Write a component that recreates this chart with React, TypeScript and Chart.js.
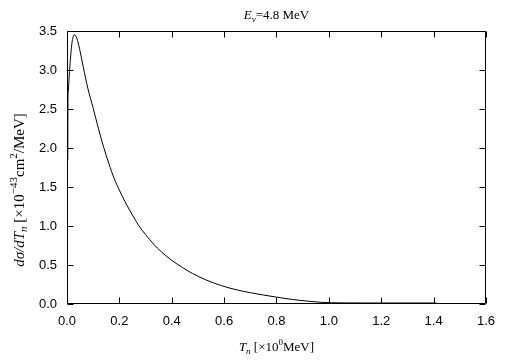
import React, { useEffect, useRef } from "react";
import { Chart, registerables } from "chart.js";

Chart.register(...registerables);

// Data
const tnValues = [
  0.003, 0.0035, 0.005, 0.008, 0.011, 0.015, 0.019, 0.023, 0.028, 0.033, 0.04,
  0.05, 0.062, 0.08, 0.1, 0.12, 0.14, 0.16, 0.18, 0.2, 0.225, 0.25, 0.275, 0.3,
  0.33, 0.36, 0.4, 0.44, 0.48, 0.53, 0.59, 0.65, 0.7, 0.75, 0.8, 0.86, 0.92,
  0.97, 1.01, 1.06, 1.15, 1.25, 1.35, 1.41,
];
const dsigmaValues = [
  1.85, 2.5, 2.72, 2.9, 3.05, 3.22, 3.35, 3.42, 3.45, 3.44, 3.38, 3.24, 3.04,
  2.76, 2.51, 2.25, 2.01, 1.8, 1.61, 1.46, 1.29, 1.14, 1.0, 0.89, 0.77, 0.67,
  0.56, 0.47, 0.39, 0.31, 0.235, 0.18, 0.145, 0.115, 0.088, 0.058, 0.036, 0.022,
  0.016, 0.014, 0.013, 0.013, 0.013, 0.013,
];
const xTickRange = [0, 1.6];
const xTickStep = 0.2;
const yTickRange = [0, 3.5];
const yTickStep = 0.5;

type Seg = { t: string; i?: boolean; s?: "sub" | "sup" };
const titleSegs: Seg[] = [
  { t: "E", i: true },
  { t: "ν", i: true, s: "sub" },
  { t: "=4.8 MeV" },
];
const xTitleSegs: Seg[] = [
  { t: "T", i: true },
  { t: "n", i: true, s: "sub" },
  { t: " [×10" },
  { t: "0", s: "sup" },
  { t: "MeV]" },
];
const yTitleSegs: Seg[] = [
  { t: "dσ/dT", i: true },
  { t: "n", i: true, s: "sub" },
  { t: " [×10" },
  { t: "−43", s: "sup" },
  { t: "cm" },
  { t: "2", s: "sup" },
  { t: "/MeV]" },
];

const SERIF = '"Liberation Serif", "DejaVu Serif", serif';

function segFont(s: Seg, base: number, small: number) {
  const size = s.s ? small : base;
  return `${s.i ? "italic " : ""}${size}px ${SERIF}`;
}

function drawRich(
  ctx: CanvasRenderingContext2D,
  segs: Seg[],
  cx: number,
  cy: number,
  rot: number,
  base: number,
  small: number
) {
  ctx.save();
  ctx.translate(cx, cy);
  ctx.rotate(rot);
  let total = 0;
  const widths = segs.map((s) => {
    ctx.font = segFont(s, base, small);
    const w = ctx.measureText(s.t).width;
    total += w;
    return w;
  });
  let x = -total / 2;
  ctx.fillStyle = "#000";
  ctx.textBaseline = "alphabetic";
  ctx.textAlign = "left";
  segs.forEach((s, k) => {
    ctx.font = segFont(s, base, small);
    const dy = s.s === "sub" ? base * 0.25 : s.s === "sup" ? -base * 0.45 : 0;
    ctx.fillText(s.t, x, base * 0.3 + dy);
    x += widths[k];
  });
  ctx.restore();
}

const framePlugin = {
  id: "frameAndTitles",
  afterDraw(chart: any) {
    const { ctx, chartArea } = chart;
    const { left, right, top, bottom } = chartArea;
    const xs = chart.scales.x;
    const ys = chart.scales.y;
    ctx.save();
    ctx.strokeStyle = "#000";
    ctx.lineWidth = 1;
    ctx.beginPath();
    const L = Math.round(left) + 0.5;
    const R = Math.round(right) - 0.5;
    const T = Math.round(top) + 0.5;
    const B = Math.round(bottom) - 0.5;
    ctx.rect(L, T, R - L, B - T);
    const len = 6;
    xs.ticks.forEach((t: any) => {
      const px = Math.round(xs.getPixelForValue(t.value)) + 0.5;
      ctx.moveTo(px, B);
      ctx.lineTo(px, B - len);
      ctx.moveTo(px, T);
      ctx.lineTo(px, T + len);
    });
    ys.ticks.forEach((t: any) => {
      const py = Math.round(ys.getPixelForValue(t.value)) + 0.5;
      ctx.moveTo(L, py);
      ctx.lineTo(L + len, py);
      ctx.moveTo(R, py);
      ctx.lineTo(R - len, py);
    });
    ctx.stroke();
    ctx.restore();

    const midX = (left + right) / 2;
    drawRich(ctx, titleSegs, midX, 15, 0, 13, 9);
    drawRich(ctx, xTitleSegs, midX, 347, 0, 13, 9);
    drawRich(ctx, yTitleSegs, 19, 190, -Math.PI / 2, 15, 11);
  },
};

export default function App() {
  const ref = useRef<HTMLCanvasElement | null>(null);

  useEffect(() => {
    document.body.style.margin = "0";
    if (!ref.current) return;
    const points = tnValues.map((x, k) => ({ x, y: dsigmaValues[k] }));
    const tickFont = { family: '"Liberation Sans", Arial, sans-serif', size: 13 };
    const chart = new Chart(ref.current, {
      type: "line",
      data: {
        datasets: [
          {
            data: points,
            borderColor: "#000",
            borderWidth: 1,
            pointRadius: 0,
            fill: false,
            cubicInterpolationMode: "monotone",
          },
        ],
      },
      options: {
        responsive: false,
        animation: false,
        devicePixelRatio: 1,
        layout: { padding: { top: 31, right: 17, left: 0, bottom: 0 } },
        plugins: {
          legend: { display: false },
          title: { display: false },
          tooltip: { enabled: false },
        },
        scales: {
          x: {
            type: "linear",
            min: xTickRange[0],
            max: xTickRange[1],
            grid: { display: false, drawTicks: false },
            border: { display: false },
            ticks: {
              stepSize: xTickStep,
              padding: 10,
              color: "#000",
              font: tickFont,
              maxRotation: 0,
              callback: (v: any) => Number(v).toFixed(1),
            },
            afterFit: (s: any) => {
              s.height = 57;
            },
          },
          y: {
            type: "linear",
            min: yTickRange[0],
            max: yTickRange[1],
            grid: { display: false, drawTicks: false },
            border: { display: false },
            ticks: {
              stepSize: yTickStep,
              padding: 10,
              color: "#000",
              font: tickFont,
              callback: (v: any) => Number(v).toFixed(1),
            },
            afterFit: (s: any) => {
              s.width = 67;
            },
          },
        },
      },
      plugins: [framePlugin],
    } as any);
    return () => chart.destroy();
  }, []);

  return (
    <div style={{ position: "absolute", left: 0, top: 0, width: 505, height: 361, background: "#fff" }}>
      <canvas ref={ref} width={505} height={361} />
    </div>
  );
}
